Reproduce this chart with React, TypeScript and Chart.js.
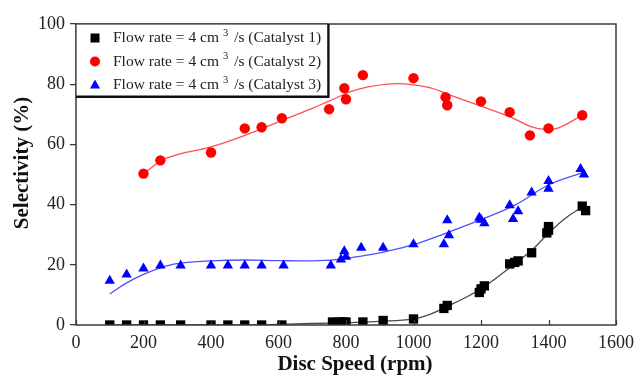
import React, { useEffect, useRef } from 'react';
import { Chart, registerables } from 'chart.js';

Chart.register(...registerables);

// Measured selectivity (%) against disc speed (rpm) for each catalyst
const speedCat1 = [100, 150, 200, 250, 310, 400, 450, 500, 550, 610, 760, 780, 790, 800, 850, 910, 1000, 1090, 1100, 1195, 1200, 1210, 1285, 1300, 1310, 1350, 1395, 1400, 1400, 1500, 1510];
const selCat1 = [0, 0, 0, 0, 0, 0, 0, 0, 0, 0, 1, 1, 1, 1, 1, 1.5, 2, 5.5, 6.5, 10.8, 12, 13, 20.3, 20.8, 21.3, 24, 30.6, 32.7, 31.5, 39.5, 38];

const speedCat2 = [200, 250, 400, 500, 550, 610, 750, 795, 800, 850, 1000, 1095, 1100, 1200, 1285, 1345, 1400, 1500];
const selCat2 = [50.3, 54.7, 57.3, 65.3, 65.7, 68.7, 71.7, 78.7, 75, 83, 82, 75.7, 73, 74.3, 70.7, 63, 65.3, 69.7];

const speedCat3 = [100, 150, 200, 250, 310, 400, 450, 500, 550, 615, 755, 785, 795, 800, 845, 910, 1000, 1090, 1100, 1105, 1195, 1200, 1210, 1285, 1295, 1310, 1350, 1400, 1400, 1495, 1505];
const selCat3 = [14.7, 16.8, 18.8, 19.8, 19.8, 19.8, 19.8, 19.8, 19.8, 19.8, 19.8, 21.8, 24.5, 22.7, 25.7, 25.7, 26.8, 26.8, 34.8, 29.8, 35.6, 35, 33.8, 39.8, 35.2, 37.8, 44, 47.8, 45.3, 51.8, 50];

// Trend lines, sampled along each fitted curve
const trendSpeed1 = [100, 300, 500, 600, 700, 800, 900, 1000, 1050, 1100, 1150, 1200, 1250, 1300, 1350, 1400, 1450, 1500];
const trendSel1 = [0, 0, 0, 0.2, 0.5, 0.8, 1.2, 2, 3.6, 6.2, 8.9, 12, 16, 20.3, 24.8, 30.5, 35.5, 39.2];

const trendSpeed2 = [200, 270, 400, 500, 600, 700, 750, 835, 950, 1050, 1100, 1200, 1290, 1350, 1390, 1430, 1500];
const trendSel2 = [50.3, 55.5, 59.2, 63, 67.5, 72, 74.4, 78.3, 80.2, 78.8, 76.7, 72.7, 69, 65.8, 65, 65.5, 69.7];

const trendSpeed3 = [100, 150, 200, 250, 300, 400, 500, 600, 700, 770, 850, 900, 1000, 1100, 1200, 1300, 1400, 1500];
const trendSel3 = [10.3, 14, 16.8, 19, 20.4, 21.3, 21.6, 21.4, 21.3, 21.7, 23, 24, 26.7, 30.7, 35, 39.8, 46.5, 50.6];

const seriesNames = ['Catalyst 1', 'Catalyst 2', 'Catalyst 3'];
const markerColors = ['#000000', '#ff0000', '#0000ff'];
const trendColors = ['#4a4a4a', '#ff5050', '#5050ff'];
const markerShapes = ['rect', 'circle', 'triangle'];

const xTicks = [0, 200, 400, 600, 800, 1000, 1200, 1400, 1600];
const xTitle = 'Disc Speed (rpm)';
const yTitle = 'Selectivity (%)';

const SERIF = '"Liberation Serif", "Times New Roman", serif';
const AXIS_COLOR = '#3a3a3a';

const pairs = (xs: number[], ys: number[]) => xs.map((x, i) => ({ x, y: ys[i] }));

function drawMarker(ctx: CanvasRenderingContext2D, shape: string, x: number, y: number, color: string) {
  ctx.fillStyle = color;
  ctx.beginPath();
  if (shape === 'rect') {
    ctx.rect(x - 4.5, y - 4.5, 9, 9);
  } else if (shape === 'circle') {
    ctx.arc(x, y, 5, 0, Math.PI * 2);
  } else {
    ctx.moveTo(x, y - 5.5);
    ctx.lineTo(x + 5, y + 3.5);
    ctx.lineTo(x - 5, y + 3.5);
    ctx.closePath();
  }
  ctx.fill();
}

const framePlugin = {
  id: 'frameAndLegend',
  afterDraw(chart: any) {
    const { ctx, chartArea } = chart;
    const { left, right, top, bottom } = chartArea;
    const xScale = chart.scales.x;
    ctx.save();

    // plot frame
    ctx.strokeStyle = AXIS_COLOR;
    ctx.lineWidth = 1.5;
    ctx.strokeRect(left, top, right - left, bottom - top);

    // x ticks pointing into the plot
    ctx.beginPath();
    xTicks.forEach((v) => {
      const px = Math.round(xScale.getPixelForValue(v)) + 0.5;
      ctx.moveTo(px, bottom);
      ctx.lineTo(px, bottom - 5);
    });
    ctx.lineWidth = 1.2;
    ctx.stroke();

    // axis titles
    ctx.fillStyle = '#111';
    ctx.font = `bold 21px ${SERIF}`;
    ctx.textAlign = 'center';
    ctx.textBaseline = 'middle';
    ctx.fillText(xTitle, 355, 365);
    ctx.save();
    ctx.translate(23, 163);
    ctx.rotate(-Math.PI / 2);
    ctx.fillText(yTitle, 0, 0);
    ctx.restore();

    // legend box
    const bx = left, by = top, bw = 252, bh = 72;
    ctx.fillStyle = '#ffffff';
    ctx.fillRect(bx, by, bw, bh);
    ctx.strokeStyle = AXIS_COLOR;
    ctx.lineWidth = 1.2;
    ctx.strokeRect(bx, by, bw, bh);
    ctx.strokeStyle = '#111';
    ctx.lineWidth = 2.2;
    ctx.beginPath();
    ctx.moveTo(bx + bw + 0.5, by);
    ctx.lineTo(bx + bw + 0.5, by + bh + 1);
    ctx.lineTo(bx, by + bh + 1);
    ctx.stroke();

    const rowY = [38, 61.5, 85];
    seriesNames.forEach((name, i) => {
      const y = rowY[i];
      drawMarker(ctx, markerShapes[i], 95, y, markerColors[i]);
      ctx.fillStyle = '#222';
      ctx.textAlign = 'left';
      ctx.textBaseline = 'middle';
      ctx.font = `15.5px ${SERIF}`;
      let tx = 113;
      const head = 'Flow rate = 4 cm';
      ctx.fillText(head, tx, y);
      tx += ctx.measureText(head).width + 4;
      ctx.font = `10.5px ${SERIF}`;
      ctx.fillText('3', tx, y - 5);
      tx += ctx.measureText('3').width + 2;
      ctx.font = `15.5px ${SERIF}`;
      ctx.fillText(` /s (${name})`, tx, y);
    });

    ctx.restore();
  },
};

export default function App() {
  const canvasRef = useRef<HTMLCanvasElement>(null);

  useEffect(() => {
    const canvas = canvasRef.current;
    if (!canvas) return;

    const scatterSets = [
      { xs: speedCat1, ys: selCat1, radius: 6.6 },
      { xs: speedCat2, ys: selCat2, radius: 5.2 },
      { xs: speedCat3, ys: selCat3, radius: 6 },
    ].map((s, i) => ({
      type: 'scatter' as const,
      label: seriesNames[i],
      data: pairs(s.xs, s.ys),
      pointStyle: markerShapes[i],
      pointRadius: s.radius,
      pointBackgroundColor: markerColors[i],
      pointBorderWidth: 0,
      showLine: false,
      order: 1,
    }));

    const trendSets = [
      pairs(trendSpeed1, trendSel1),
      pairs(trendSpeed2, trendSel2),
      pairs(trendSpeed3, trendSel3),
    ].map((data, i) => ({
      type: 'line' as const,
      label: `${seriesNames[i]} trend`,
      data,
      borderColor: trendColors[i],
      borderWidth: 1.3,
      pointRadius: 0,
      tension: 0.4,
      fill: false,
      order: 2,
    }));

    const chart = new Chart(canvas, {
      type: 'scatter',
      data: { datasets: [...trendSets, ...scatterSets] as any },
      options: {
        responsive: false,
        animation: false,
        devicePixelRatio: 1,
        layout: { padding: { top: 24, right: 22, left: 0, bottom: 0 } },
        plugins: { legend: { display: false }, tooltip: { enabled: false } },
        scales: {
          x: {
            type: 'linear',
            min: 0,
            max: 1600,
            afterFit: (s: any) => { s.height = 56; },
            ticks: {
              stepSize: 200,
              autoSkip: false,
              maxRotation: 0,
              padding: 7,
              color: '#222',
              font: { family: SERIF, size: 18 },
              callback: (v: any) => String(v),
            },
            grid: { display: true, drawOnChartArea: false, drawTicks: false },
            border: { display: false },
          },
          y: {
            type: 'linear',
            min: 0,
            max: 100,
            afterFit: (s: any) => { s.width = 76; },
            ticks: {
              stepSize: 20,
              padding: 5,
              color: '#222',
              font: { family: SERIF, size: 18 },
              callback: (v: any) => String(v),
            },
            grid: { display: true, drawOnChartArea: false, drawTicks: true, tickLength: 6, color: AXIS_COLOR, lineWidth: 1.3 },
            border: { display: false },
          },
        },
      },
      plugins: [framePlugin],
    });

    return () => chart.destroy();
  }, []);

  return (
    <div style={{ position: 'fixed', left: 0, top: 0, width: 641, height: 381, background: '#ffffff' }}>
      <canvas ref={canvasRef} width={641} height={381} style={{ display: 'block', width: 641, height: 381 }} />
    </div>
  );
}
